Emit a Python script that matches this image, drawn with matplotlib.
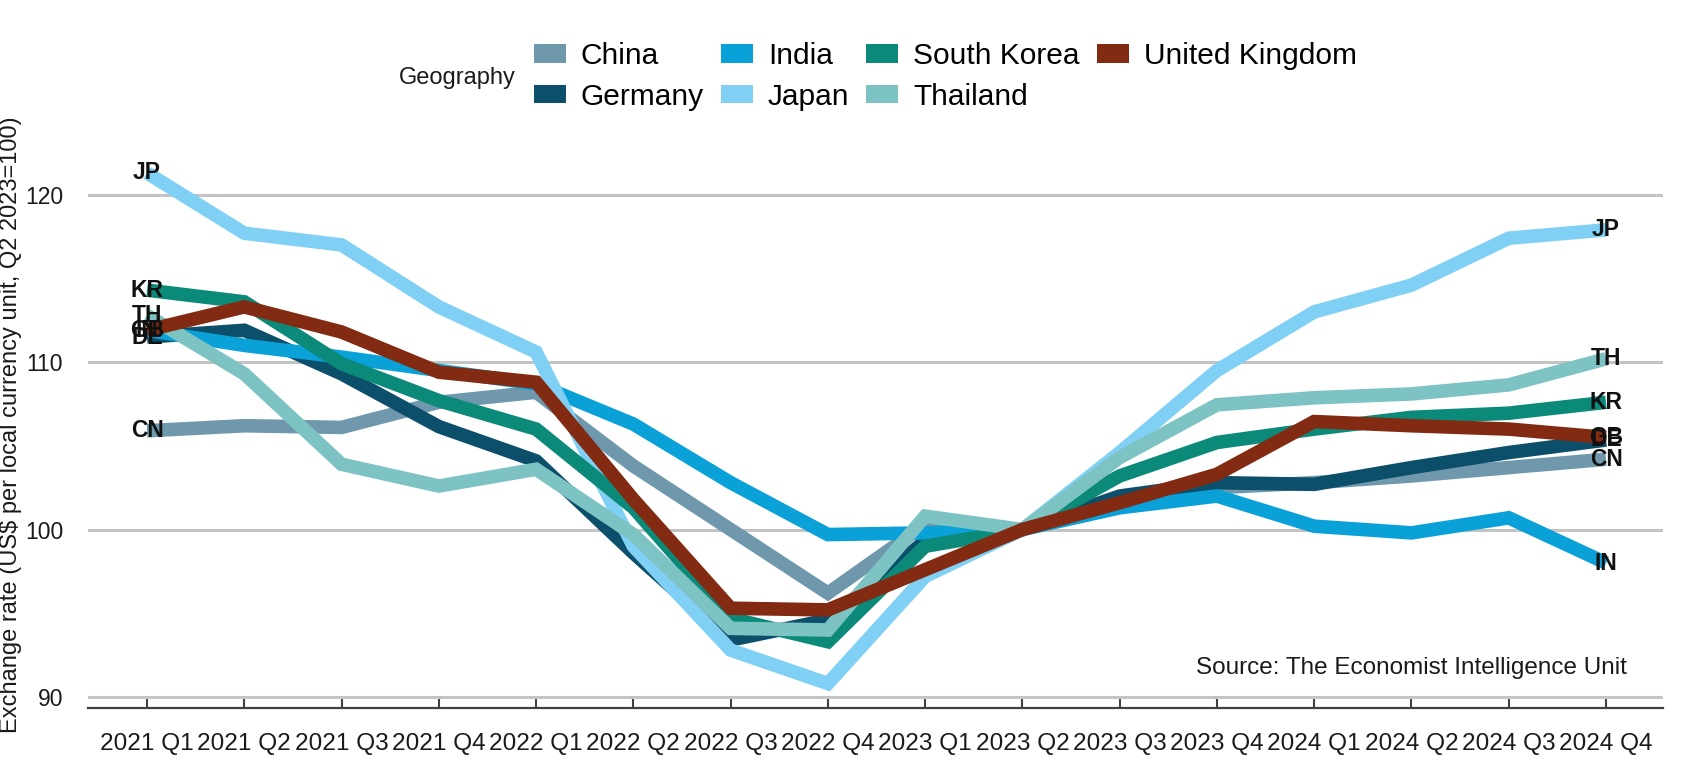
import matplotlib
matplotlib.use("Agg")
import matplotlib.pyplot as plt
from matplotlib.patches import Patch

plt.rcParams['font.family'] = ['Liberation Sans', 'DejaVu Sans']

quarters = ["2021 Q1", "2021 Q2", "2021 Q3", "2021 Q4",
            "2022 Q1", "2022 Q2", "2022 Q3", "2022 Q4",
            "2023 Q1", "2023 Q2", "2023 Q3", "2023 Q4",
            "2024 Q1", "2024 Q2", "2024 Q3", "2024 Q4"]

countries = ["China", "Germany", "India", "Japan", "South Korea", "Thailand", "United Kingdom"]
codes = ["CN", "DE", "IN", "JP", "KR", "TH", "GB"]
colors = ["#6f98ad", "#0b4f6a", "#0aa0d8", "#7fd0f4", "#0c8a79", "#7dc3c3", "#822b12"]

china = [105.9, 106.2, 106.1, 107.6, 108.2, 103.8, 100.0, 96.2, 100.3, 100.0, 101.6, 102.5, 102.8, 103.2, 103.7, 104.2]
germany = [111.5, 111.9, 109.3, 106.15, 104.1, 98.6, 93.4, 94.6, 99.3, 100.0, 102.0, 102.8, 102.7, 103.7, 104.6, 105.35]
india = [111.9, 111.0, 110.3, 109.5, 108.7, 106.3, 102.8, 99.7, 99.8, 100.0, 101.3, 102.0, 100.2, 99.8, 100.7, 98.0]
japan = [121.3, 117.7, 117.0, 113.3, 110.6, 99.0, 92.8, 90.8, 97.2, 100.0, 104.6, 109.5, 113.0, 114.6, 117.4, 117.9]
south_korea = [114.3, 113.6, 109.9, 107.7, 106.0, 101.3, 94.7, 93.3, 99.0, 100.0, 103.2, 105.2, 106.0, 106.7, 106.95, 107.6]
thailand = [112.8, 109.3, 103.9, 102.6, 103.6, 99.7, 94.1, 94.0, 100.8, 100.0, 104.3, 107.45, 107.87, 108.1, 108.64, 110.2]
united_kingdom = [111.9, 113.3, 111.8, 109.4, 108.8, 101.8, 95.3, 95.2, 97.6, 100.0, 101.6, 103.3, 106.45, 106.2, 106.0, 105.5]

series = [china, germany, india, japan, south_korea, thailand, united_kingdom]
yticks = [90, 100, 110, 120]

W, H = 1685, 767
fig = plt.figure(figsize=(W / 100, H / 100), dpi=100)
ax = fig.add_axes([88 / W, 59 / H, (1663 - 88) / W, (708 - 111) / H])

x = list(range(len(quarters)))
for vals, col in zip(series, colors):
    ax.plot(x, vals, color=col, lw=9.8, solid_joinstyle='miter', solid_capstyle='butt', zorder=3)

for vals, code in zip(series, codes):
    ax.text(x[0], vals[0], code, ha='center', va='center', fontsize=16.5,
            fontweight='bold', color='#111111', zorder=10)
    ax.text(x[-1], vals[-1], code, ha='center', va='center', fontsize=16.5,
            fontweight='bold', color='#111111', zorder=10)

ax.set_xlim(-0.607, 15.586)
ax.set_ylim(89.34, 125.0)
ax.set_yticks(yticks)
ax.set_yticklabels([str(v) for v in yticks])
ax.yaxis.grid(True, color='#c4c4c4', lw=2.2)
ax.set_axisbelow(True)
ax.set_xticks(x)
ax.set_xticklabels(quarters)
for s in ['top', 'right', 'left']:
    ax.spines[s].set_visible(False)
ax.spines['bottom'].set_color('#404040')
ax.spines['bottom'].set_linewidth(1.6)
ax.tick_params(axis='x', direction='in', length=9, width=1.5, color='#404040',
               pad=18, labelsize=17.6, labelcolor='#1a1a1a')
ax.tick_params(axis='y', length=0, pad=18, labelsize=16.5, labelcolor='#1a1a1a')

fig.text(11 / W, 1 - 425 / H, "Exchange rate (US$ per local currency unit, Q2 2023=100)",
         rotation=90, ha='center', va='center', fontsize=17, color='#1a1a1a')

fig.text(1627 / W, 1 - 668 / H, "Source: The Economist Intelligence Unit",
         ha='right', va='center', fontsize=17.5, color='#1a1a1a')

handles = [Patch(facecolor=c, edgecolor='none') for c in colors]
fig.legend(handles, countries, ncol=4, loc='upper left',
           bbox_to_anchor=(534 / W, 1 - 42 / H), frameon=False, fontsize=21.5,
           handlelength=1.07, handleheight=0.6, handletextpad=0.5,
           columnspacing=0.57, labelspacing=0.42, borderpad=0, borderaxespad=0)
fig.text(516 / W, 1 - 78 / H, "Geography", ha='right', va='center', fontsize=17, color='#1a1a1a')

fig.savefig("out.png", dpi=100)
